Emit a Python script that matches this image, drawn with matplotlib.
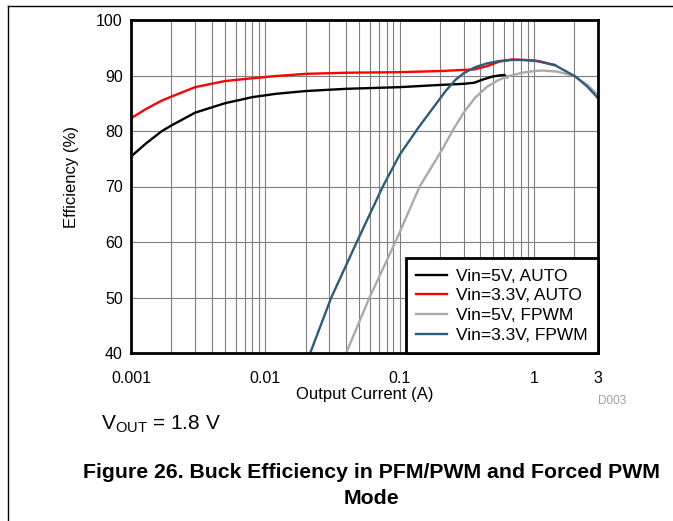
import numpy as np
import matplotlib
matplotlib.use("Agg")
import matplotlib.pyplot as plt
from matplotlib.lines import Line2D
from matplotlib.ticker import FixedLocator, LogLocator, NullFormatter

plt.rcParams['font.family'] = ['Liberation Sans', 'DejaVu Sans']
plt.rcParams['mathtext.fontset'] = 'custom'
plt.rcParams['mathtext.rm'] = 'Liberation Sans'
plt.rcParams['mathtext.it'] = 'Liberation Sans:italic'

# Vin=5V, AUTO
x_5v_auto = [0.001, 0.0013, 0.0017, 0.002, 0.003, 0.005, 0.008, 0.012, 0.02,
             0.04, 0.1, 0.2, 0.3, 0.36, 0.42, 0.49, 0.55, 0.6, 0.63]
y_5v_auto = [75.4, 77.8, 80.0, 81.0, 83.3, 85.0, 86.1, 86.7, 87.2,
             87.6, 87.9, 88.3, 88.5, 88.7, 89.3, 89.8, 90.0, 90.1, 89.7]

# Vin=3.3V, AUTO
x_33v_auto = [0.001, 0.0013, 0.0017, 0.002, 0.003, 0.005, 0.008, 0.012, 0.02,
              0.04, 0.1, 0.2, 0.36, 0.45, 0.55, 0.69, 1.0, 1.43]
y_33v_auto = [82.3, 84.0, 85.5, 86.2, 87.9, 89.0, 89.5, 89.9, 90.3,
              90.5, 90.6, 90.8, 91.1, 91.7, 92.5, 92.9, 92.7, 91.9]

# Vin=5V, FPWM
x_5v_fpwm = [0.040, 0.0597, 0.093, 0.141, 0.2, 0.25, 0.3, 0.365, 0.45,
             0.546, 0.65, 0.816, 1.0, 1.15, 1.5, 2.0, 2.5, 3.0]
y_5v_fpwm = [40, 50, 60, 70, 76.0, 80.2, 83.3, 86.0, 88.0,
             89.2, 89.9, 90.5, 90.8, 90.9, 90.7, 89.9, 88.3, 86.5]

# Vin=3.3V, FPWM
x_33v_fpwm = [0.0216, 0.031, 0.048, 0.075, 0.1, 0.137, 0.183, 0.22, 0.26,
              0.3, 0.365, 0.45, 0.55, 0.69, 0.85, 1.09, 1.45, 2.04, 2.5, 2.95]
y_33v_fpwm = [40, 50, 60, 70, 75.7, 80.5, 84.6, 87.2, 89.2,
              90.4, 91.5, 92.2, 92.6, 92.8, 92.8, 92.6, 91.8, 89.8, 88.0, 86.1]

x_ticks = [0.001, 0.01, 0.1, 1, 3]
x_ticklabels = ["0.001", "0.01", "0.1", "1", "3"]
y_ticks = [40, 50, 60, 70, 80, 90, 100]

fig = plt.figure(figsize=(6.73, 5.21), dpi=100)
ax = fig.add_axes([131/673, 1 - 353/521, (598 - 131)/673, (353 - 20)/521])

ax.plot(x_5v_auto, y_5v_auto, c='k', lw=1.7, label='Vin=5V, AUTO')
ax.plot(x_33v_auto, y_33v_auto, c='#ff0000', lw=1.7, label='Vin=3.3V, AUTO')
ax.plot(x_5v_fpwm, y_5v_fpwm, c='#aaaaaa', lw=1.7, label='Vin=5V, FPWM')
ax.plot(x_33v_fpwm, y_33v_fpwm, c='#2b5d78', lw=1.7, label='Vin=3.3V, FPWM')

ax.set_xscale('log')
ax.set_xlim(0.001, 3)
ax.set_ylim(40, 100)
ax.xaxis.set_major_locator(FixedLocator(x_ticks))
ax.set_xticklabels(x_ticklabels)
ax.xaxis.set_minor_locator(LogLocator(base=10, subs=np.arange(2, 10)))
ax.xaxis.set_minor_formatter(NullFormatter())
ax.set_yticks(y_ticks)

ax.grid(True, which='major', c='#7f7f7f', lw=0.8)
ax.grid(True, which='minor', axis='x', c='#7f7f7f', lw=0.8)
ax.set_axisbelow(True)
ax.tick_params(which='both', length=0, labelsize=11.5)
ax.tick_params(axis='x', pad=13)
ax.tick_params(axis='y', pad=6)
for s in ax.spines.values():
    s.set_linewidth(2)

ax.set_xlabel('Output Current (A)', fontsize=12, labelpad=1)
ax.set_ylabel('Efficiency (%)', fontsize=12)
ax.yaxis.set_label_coords(-0.112, 0.53)

leg = ax.legend(loc='lower right', fontsize=12.5, frameon=True, fancybox=False,
                borderaxespad=0, handlelength=1.8, borderpad=0.6,
                labelspacing=0.26, handletextpad=0.5)
leg.get_frame().set_edgecolor('k')
leg.get_frame().set_linewidth(2)
leg.get_frame().set_alpha(1)

fig.text(626/673, 1 - 401/521, 'D003', fontsize=8.5, color='#a0a0a0',
         ha='right', va='center')
fig.text(101/673, 1 - 424/521, r'V$_{\mathrm{OUT}}$ = 1.8 V', fontsize=15,
         ha='left', va='center')
fig.text(371/673, 1 - 473/521, 'Figure 26. Buck Efficiency in PFM/PWM and Forced PWM',
         fontsize=15.3, fontweight='bold', ha='center', va='center')
fig.text(371/673, 1 - 498/521, 'Mode', fontsize=15.3, fontweight='bold',
         ha='center', va='center')

# page frame lines
fig.add_artist(Line2D([8/673, 1], [1 - 6/521, 1 - 6/521], c='k', lw=1))
fig.add_artist(Line2D([8/673, 8/673], [1 - 6/521, 0], c='k', lw=1))

fig.savefig('out.png', dpi=100)
